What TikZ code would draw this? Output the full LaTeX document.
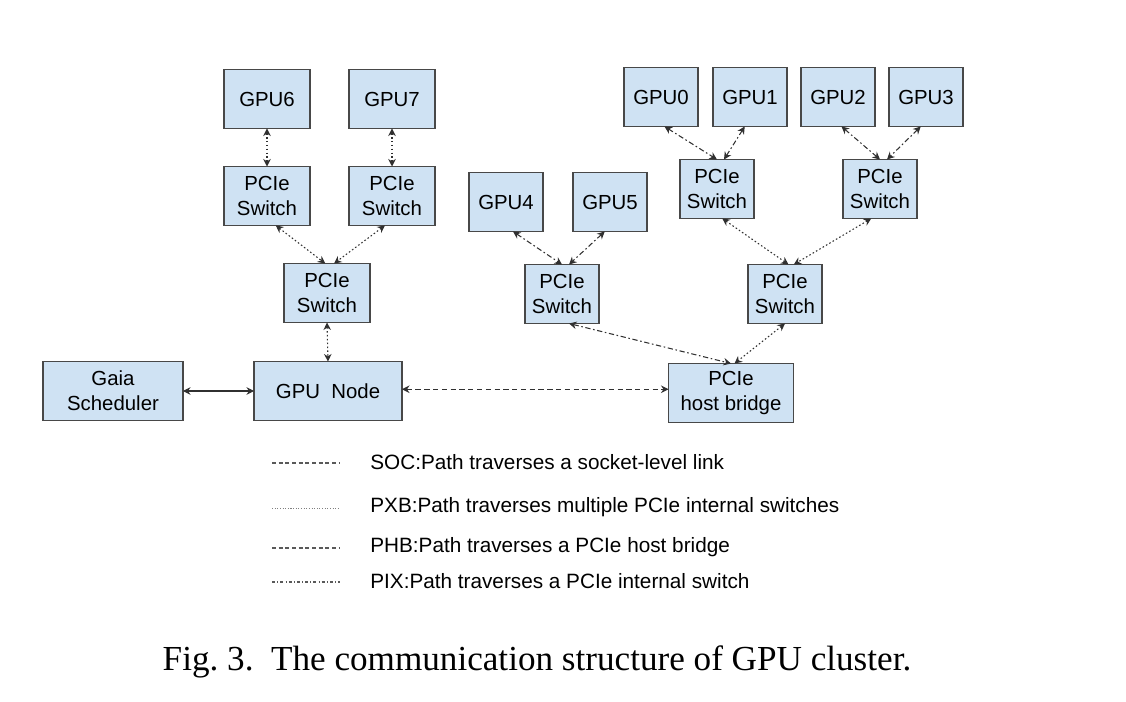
\documentclass[tikz,border=0pt]{standalone}
\usepackage{xcolor}
\usepackage{fontspec}
\setmainfont{Liberation Serif}
\setsansfont{Liberation Sans}
\usepackage{tikz}
\usetikzlibrary{calc,positioning,arrows.meta}

\definecolor{boxFill}{HTML}{CFE2F3}
\definecolor{boxLine}{HTML}{484848}
\definecolor{linkInk}{HTML}{303030}

\begin{document}
\begin{tikzpicture}[x=0.02cm, y=-0.02cm]
  % requires: \usetikzlibrary{calc,positioning,arrows.meta}
  \tikzset{
    gpuBox/.style={draw=boxLine, fill=boxFill, line width=1pt, inner sep=0pt, outer sep=0pt, align=center, font=\sffamily\fontsize{11.6}{14}\selectfont, minimum width=1.48cm, minimum height=1.18cm},
    wideBox/.style={gpuBox, minimum width=1.72cm},
    linkBase/.style={draw=linkInk, line width=0.6pt, {Stealth[length=1.5mm,width=1.5mm]}-{Stealth[length=1.5mm,width=1.5mm]}},
    pxbLink/.style={linkBase, dash pattern=on 0.9pt off 1.3pt},
    pixLink/.style={linkBase, dash pattern=on 3pt off 1.5pt on 0.9pt off 1.5pt},
    socLink/.style={linkBase, dash pattern=on 3pt off 2pt},
    plainLink/.style={linkBase},
    legendText/.style={anchor=west, inner sep=0pt, font=\sffamily\fontsize{11.8}{14}\selectfont},
    legendLine/.style={draw=linkInk!80, line width=0.6pt}
  }

  \useasboundingbox (0,0) rectangle (1126,702);

% --- left branch: GPU6 / GPU7 ---
  \node[wideBox] (gpu6) at (267,99) {GPU6};
  \node[wideBox] (gpu7) at (392,99) {GPU7};
  \node[wideBox] (sw6) at (267,196) {PCIe\\Switch};
  \node[wideBox] (sw7) at (392,196) {PCIe\\Switch};
  \node[wideBox] (sw67) at (327,293) {PCIe\\Switch};

% --- host side ---
  \node[gpuBox, minimum width=2.96cm] (gpunode) at (328,391) {GPU\ \ Node};
  \node[gpuBox, minimum width=2.80cm] (gaia) at (113,391) {Gaia\\Scheduler};
  \node[gpuBox, minimum width=2.50cm] (hostbridge) at (731,393) {PCIe\\host bridge};

% --- right branch: GPU0..GPU5 ---
  \node[gpuBox] (gpu0) at (661,97) {GPU0};
  \node[gpuBox] (gpu1) at (750,97) {GPU1};
  \node[gpuBox] (gpu2) at (838,97) {GPU2};
  \node[gpuBox] (gpu3) at (926,97) {GPU3};
  \node[gpuBox] (sw01) at (717,189) {PCIe\\Switch};
  \node[gpuBox] (sw23) at (880,189) {PCIe\\Switch};
  \node[gpuBox] (gpu4) at (506,202) {GPU4};
  \node[gpuBox] (gpu5) at (610,202) {GPU5};
  \node[gpuBox] (sw45) at (562,294) {PCIe\\Switch};
  \node[gpuBox] (sw03) at (785,294) {PCIe\\Switch};

% --- links ---
  \draw[pxbLink] (gpu6.south) -- (sw6.north);
  \draw[pxbLink] (gpu7.south) -- (sw7.north);
  \draw[pxbLink] ([xshift=5]sw6.south) -- ([xshift=-1]sw67.north);
  \draw[pxbLink] ([xshift=-4]sw7.south) -- ([xshift=4]sw67.north);
  \draw[pxbLink] (sw67.south) -- (gpunode.north);
  \draw[plainLink] (gaia.east) -- (gpunode.west);
  \draw[socLink] ([yshift=1]gpunode.east) -- ([yshift=1]gpunode.east -| hostbridge.west);

  \draw[pixLink] ([xshift=2]gpu0.south) -- (sw01.north);
  \draw[pixLink] ([xshift=-3]gpu1.south) -- ([xshift=4]sw01.north);
  \draw[pixLink] ([xshift=2]gpu2.south) -- (sw23.north);
  \draw[pixLink] ([xshift=-3]gpu3.south) -- ([xshift=4]sw23.north);
  \draw[pixLink] ([xshift=4]gpu4.south) -- (sw45.north);
  \draw[pixLink] ([xshift=-3]gpu5.south) -- ([xshift=4]sw45.north);
  \draw[pxbLink] ([xshift=3]sw01.south) -- ([xshift=2]sw03.north);
  \draw[pxbLink] ([xshift=-5]sw23.south) -- ([xshift=5]sw03.north);
  \draw[pixLink] ([xshift=4]sw45.south) -- (hostbridge.north);
  \draw[pxbLink] (sw03.south) -- ([xshift=2]hostbridge.north);

% --- legend ---
  \node[legendText] (leg-soc) at (370,462) {SOC:Path traverses a socket-level link};
  \node[legendText] (leg-pxb) at (370,507) {PXB:Path traverses multiple PCIe internal switches};
  \node[legendText] (leg-phb) at (370,547) {PHB:Path traverses a PCIe host bridge};
  \node[legendText] (leg-pix) at (370,581) {PIX:Path traverses a PCIe internal switch};
  \draw[legendLine, dash pattern=on 2.2pt off 1.6pt] ($(leg-soc.west)+(-98,1)$) -- ++(68,0);
  \draw[legendLine, draw=gray, line width=0.4pt, dash pattern=on 0.6pt off 0.9pt] ($(leg-pxb.west)+(-98,1)$) -- ++(68,0);
  \draw[legendLine, dash pattern=on 2.2pt off 1.6pt] ($(leg-phb.west)+(-98,1)$) -- ++(68,0);
  \draw[legendLine, dash pattern=on 1.8pt off 1.2pt on 0.5pt off 1.2pt] ($(leg-pix.west)+(-98,1)$) -- ++(68,0);

% --- caption ---
  \node[inner sep=0pt, font=\fontsize{20}{22}\selectfont] (caption) at (537,662) {Fig.~3.\ \ The communication structure of GPU cluster.};

\end{tikzpicture}
\end{document}
